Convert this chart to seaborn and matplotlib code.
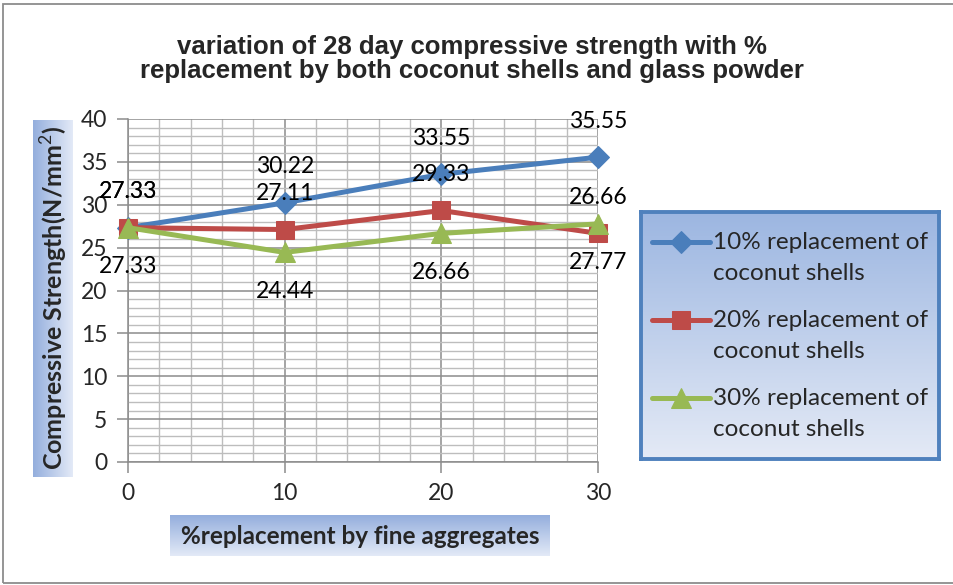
import numpy as np
import pandas as pd
import matplotlib
matplotlib.use('Agg')
import matplotlib.pyplot as plt
import seaborn as sns
from matplotlib.patches import Rectangle
from matplotlib.colors import LinearSegmentedColormap
from matplotlib.ticker import MultipleLocator
from matplotlib.legend_handler import HandlerLine2D

# ─── data ────────────────────────────────────────────────────────────────────
replacement = [0, 10, 20, 30]
series_names = ["10% replacement of\ncoconut shells",
                "20% replacement of\ncoconut shells",
                "30% replacement of\ncoconut shells"]
cs_10 = [27.33, 30.22, 33.55, 35.55]
cs_20 = [27.33, 27.11, 29.33, 26.66]
cs_30 = [27.33, 24.44, 26.66, 27.77]

title = "variation of 28 day compressive strength with %\nreplacement by both coconut shells and glass powder"
xlabel = "%replacement by fine aggregates"
ylabel = "Compressive Strength(N/mm$^2$)"

colors = ["#4a7ebb", "#be4b48", "#98b954"]
markers = ["D", "s", "^"]
msizes = [11, 13, 14]
label_offsets = [26, 26, -28]   # points: blue/red above, green below

sns.set_style("white")
plt.rcParams['font.family'] = ['Lato', 'DejaVu Sans']
plt.rcParams['mathtext.fontset'] = 'custom'
plt.rcParams['mathtext.bf'] = 'Lato:bold'
plt.rcParams['mathtext.rm'] = 'Lato'

W, H = 954, 585
fig = plt.figure(figsize=(W / 100, H / 100), dpi=100)


def fx(px):
    return px / W


def fy(py):
    return 1 - py / H


def gradient_box(x0, y0, x1, y1, c_dark, c_light, horizontal=False):
    bax = fig.add_axes([fx(x0), fy(y1), fx(x1) - fx(x0), fy(y0) - fy(y1)])
    cmap = LinearSegmentedColormap.from_list("g", [c_dark, c_light])
    grad = np.linspace(0, 1, 256)
    img = grad[None, :] if horizontal else grad[:, None]
    bax.imshow(img, cmap=cmap, aspect='auto', extent=[0, 1, 0, 1], origin='upper')
    bax.set_xticks([])
    bax.set_yticks([])
    for s in bax.spines.values():
        s.set_visible(False)
    return bax


class FirstLineHandler(HandlerLine2D):
    # excel puts the legend key level with the first line of a wrapped label
    def create_artists(self, legend, orig_handle, xdescent, ydescent,
                       width, height, fontsize, trans):
        arts = super().create_artists(legend, orig_handle, xdescent, ydescent,
                                      width, height, fontsize, trans)
        for a in arts:
            a.set_ydata(np.asarray(a.get_ydata()) + 0.66 * fontsize)
        return arts


# ─── main axes ───────────────────────────────────────────────────────────────
ax = fig.add_axes([fx(128), fy(462), fx(598) - fx(128), fy(119) - fy(462)])

for vals, name, c, m, ms, off in zip([cs_10, cs_20, cs_30], series_names,
                                     colors, markers, msizes, label_offsets):
    sns.lineplot(x=replacement, y=vals, color=c, marker=m, markersize=ms,
                 markeredgecolor=c, linewidth=3.6, label=name, ax=ax,
                 clip_on=False, zorder=3)
    for xv, yv in zip(replacement, vals):
        ax.annotate(f"{yv:.2f}", xy=(xv, yv), xytext=(0, off),
                    textcoords='offset points', ha='center', va='center',
                    fontsize=16.5, color='black', annotation_clip=False, zorder=4)

handles, labels = ax.get_legend_handles_labels()
if ax.get_legend() is not None:
    ax.get_legend().remove()

ax.set_xlim(0, 30)
ax.set_ylim(0, 40)
ax.xaxis.set_major_locator(MultipleLocator(10))
ax.xaxis.set_minor_locator(MultipleLocator(2))
ax.yaxis.set_major_locator(MultipleLocator(5))
ax.yaxis.set_minor_locator(MultipleLocator(1))
ax.grid(which='major', color='#8c8c8c', linewidth=1.1)
ax.grid(which='minor', color='#bdbdbd', linewidth=1.0)
ax.set_axisbelow(True)
ax.tick_params(which='major', direction='out', length=8, width=1.1,
               color='#8c8c8c', labelsize=16.5, pad=7,
               bottom=True, left=True)
ax.tick_params(which='minor', length=0)
for s in ['top', 'right']:
    ax.spines[s].set_visible(False)
for s in ['left', 'bottom']:
    ax.spines[s].set_color('#8c8c8c')
    ax.spines[s].set_linewidth(1.1)
ax.set_xlabel("")
ax.set_ylabel("")

# ─── title ───────────────────────────────────────────────────────────────────
fig.text(fx(472), fy(59), title, ha='center', va='center', fontsize=18.5,
         fontweight='bold', family=['Liberation Sans', 'DejaVu Sans'],
         linespacing=1.05)

# ─── axis labels in gradient boxes ───────────────────────────────────────────
gradient_box(33, 120, 73, 477, "#94aedd", "#e3eaf7", horizontal=True)
fig.text(fx(54), fy(298), ylabel, rotation=90, ha='center', va='center',
         fontsize=18, fontweight='bold')

gradient_box(170, 515, 550, 556, "#94aedd", "#e3eaf7")
fig.text(fx(360), fy(536), xlabel, ha='center', va='center',
         fontsize=17.5, fontweight='bold')

# ─── legend ──────────────────────────────────────────────────────────────────
lax = gradient_box(641, 212, 939, 459, "#9cb6e1", "#e4eaf6")
for s in lax.spines.values():
    s.set_visible(True)
    s.set_color("#4f81bd")
    s.set_linewidth(2.8)

leg = fig.legend(handles, labels, loc='center', bbox_to_anchor=(fx(790), fy(336)),
                 frameon=False, fontsize=17.5, handlelength=2.4, handletextpad=0.1,
                 labelspacing=1.05,
                 handler_map={h: FirstLineHandler() for h in handles})
for t in leg.get_texts():
    t.set_linespacing(1.6)

# ─── outer border ────────────────────────────────────────────────────────────
fig.patches.append(Rectangle((fx(3), fy(583)), 1.0, fy(4) - fy(583),
                             transform=fig.transFigure, fill=False,
                             edgecolor='#8c8c8c', linewidth=1.3))

plt.savefig("out.png", dpi=100)
